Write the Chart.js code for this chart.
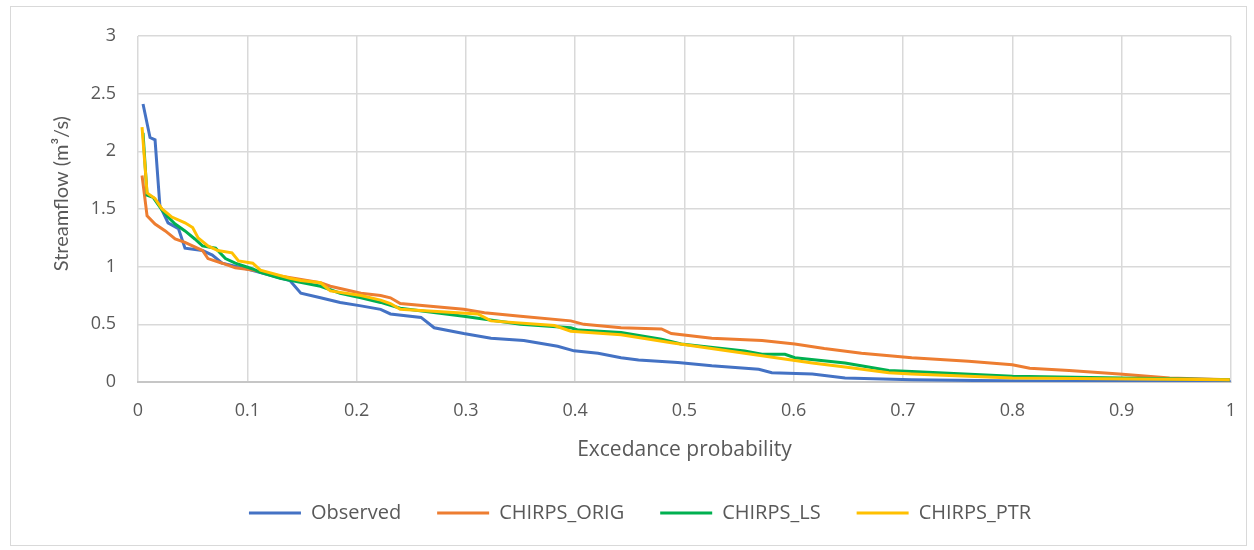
<!DOCTYPE html>
<html>
<head>
<meta charset="utf-8">
<script src="https://cdn.jsdelivr.net/npm/chart.js@4/dist/chart.umd.min.js"></script>
<style>
  html, body { margin: 0; padding: 0; background: #ffffff; }
  #wrap { position: relative; width: 1254px; height: 550px; }
  #frame { position: absolute; left: 10px; top: 6px; width: 1237px; height: 540px; border: 1px solid #d9d9d9; box-sizing: border-box; }
  canvas { position: absolute; left: 0; top: 0; }
</style>
</head>
<body>
<div id="wrap">
  <div id="frame"></div>
  <canvas id="c" width="1254" height="550"></canvas>
</div>
<script>
// ---- Data ----
const seriesNames = ["Observed", "CHIRPS_ORIG", "CHIRPS_LS", "CHIRPS_PTR"];

const observedP = [0.0046, 0.011, 0.0156, 0.020, 0.0275, 0.037, 0.043, 0.059, 0.068, 0.077, 0.100, 0.112, 0.139, 0.149, 0.167, 0.185, 0.204, 0.222, 0.231, 0.259, 0.271, 0.298, 0.323, 0.353, 0.384, 0.399, 0.421, 0.442, 0.458, 0.494, 0.525, 0.568, 0.580, 0.617, 0.647, 0.708, 0.790, 0.880, 1.000];
const observedQ = [2.41, 2.12, 2.10, 1.53, 1.38, 1.33, 1.16, 1.14, 1.10, 1.03, 0.98, 0.95, 0.88, 0.77, 0.73, 0.69, 0.66, 0.63, 0.59, 0.56, 0.47, 0.42, 0.38, 0.36, 0.31, 0.27, 0.25, 0.21, 0.19, 0.17, 0.14, 0.11, 0.08, 0.07, 0.035, 0.02, 0.01, 0.005, 0.002];

const origP = [0.0037, 0.0083, 0.0156, 0.025, 0.034, 0.043, 0.059, 0.064, 0.077, 0.089, 0.105, 0.130, 0.167, 0.176, 0.185, 0.204, 0.222, 0.231, 0.240, 0.298, 0.317, 0.350, 0.396, 0.408, 0.442, 0.479, 0.488, 0.525, 0.571, 0.601, 0.628, 0.662, 0.708, 0.760, 0.800, 0.816, 0.852, 0.898, 0.944, 0.999];
const origQ = [1.79, 1.44, 1.37, 1.31, 1.24, 1.21, 1.14, 1.07, 1.03, 0.99, 0.97, 0.92, 0.86, 0.83, 0.81, 0.77, 0.75, 0.73, 0.68, 0.63, 0.60, 0.57, 0.53, 0.50, 0.47, 0.46, 0.42, 0.38, 0.36, 0.33, 0.29, 0.25, 0.21, 0.18, 0.15, 0.12, 0.10, 0.07, 0.035, 0.02];

const lsP = [0.0046, 0.0083, 0.0138, 0.022, 0.0275, 0.034, 0.043, 0.052, 0.059, 0.071, 0.080, 0.089, 0.105, 0.112, 0.130, 0.167, 0.185, 0.204, 0.222, 0.240, 0.298, 0.350, 0.396, 0.403, 0.442, 0.479, 0.497, 0.555, 0.571, 0.592, 0.601, 0.647, 0.687, 0.708, 0.800, 0.999];
const lsQ = [2.16, 1.62, 1.60, 1.49, 1.43, 1.37, 1.31, 1.24, 1.18, 1.16, 1.07, 1.03, 0.98, 0.95, 0.90, 0.83, 0.77, 0.73, 0.69, 0.64, 0.57, 0.50, 0.47, 0.45, 0.43, 0.37, 0.33, 0.27, 0.24, 0.24, 0.21, 0.165, 0.10, 0.09, 0.05, 0.02];

const ptrP = [0.0037, 0.0083, 0.0156, 0.022, 0.031, 0.043, 0.050, 0.055, 0.064, 0.073, 0.086, 0.092, 0.105, 0.112, 0.139, 0.149, 0.167, 0.176, 0.204, 0.222, 0.231, 0.240, 0.311, 0.323, 0.381, 0.396, 0.442, 0.488, 0.555, 0.617, 0.647, 0.687, 0.708, 0.800, 0.999];
const ptrQ = [2.21, 1.64, 1.59, 1.50, 1.43, 1.38, 1.34, 1.25, 1.18, 1.14, 1.12, 1.05, 1.03, 0.97, 0.90, 0.88, 0.86, 0.79, 0.75, 0.71, 0.68, 0.63, 0.59, 0.53, 0.49, 0.44, 0.41, 0.34, 0.25, 0.165, 0.13, 0.08, 0.07, 0.035, 0.02];

const seriesColors = ["#4472C4", "#ED7D31", "#00B050", "#FFC000"];
const xAxisTitle = "Excedance probability";
const yAxisTitle = "Streamflow (m³/s)";

// ---- Build chart ----
function pts(p, q) { return p.map((v, i) => ({ x: v, y: q[i] })); }
const allP = [observedP, origP, lsP, ptrP];
const allQ = [observedQ, origQ, lsQ, ptrQ];

const datasets = seriesNames.map((name, i) => ({
  label: name,
  data: pts(allP[i], allQ[i]),
  borderColor: seriesColors[i],
  backgroundColor: seriesColors[i],
  borderWidth: 3,
  pointRadius: 0,
  tension: 0,
  order: seriesNames.length - i
}));

const FONT = "'Open Sans', Lato, sans-serif";
const TXT = "#595959";
const fmt = v => String(+Number(v).toFixed(2));

new Chart(document.getElementById("c"), {
  type: "line",
  data: { datasets },
  options: {
    responsive: false,
    animation: false,
    layout: { padding: { top: 36, right: 22, left: 48, bottom: 17 } },
    plugins: {
      legend: {
        position: "bottom",
        labels: {
          usePointStyle: true,
          pointStyle: "line",
          pointStyleWidth: 52,
          padding: 36,
          color: TXT,
          font: { family: FONT, size: 20 },
          sort: (a, b) => a.datasetIndex - b.datasetIndex
        }
      },
      tooltip: { enabled: false }
    },
    scales: {
      x: {
        type: "linear",
        min: 0, max: 1,
        ticks: { stepSize: 0.1, padding: 18, color: TXT, font: { family: FONT, size: 18 }, callback: fmt },
        grid: { color: "#d9d9d9", lineWidth: 1.5, drawTicks: false },
        border: { color: "#c6c6c6", width: 2 },
        title: { display: true, text: xAxisTitle, color: TXT, font: { family: FONT, size: 21 }, padding: { top: 0, bottom: 4 } },
        afterFit: s => { s.height = 85; }
      },
      y: {
        min: 0, max: 3,
        ticks: { stepSize: 0.5, padding: 22, color: TXT, font: { family: FONT, size: 18 }, callback: fmt },
        grid: { color: "#d9d9d9", lineWidth: 1.5, drawTicks: false },
        border: { display: false },
        title: { display: true, text: "      " + yAxisTitle, color: TXT, font: { family: "Lato, sans-serif", size: 20 }, padding: { top: 2, bottom: 0 } },
        afterFit: s => { s.width = 90; }
      }
    }
  }
});
</script>
</body>
</html>
